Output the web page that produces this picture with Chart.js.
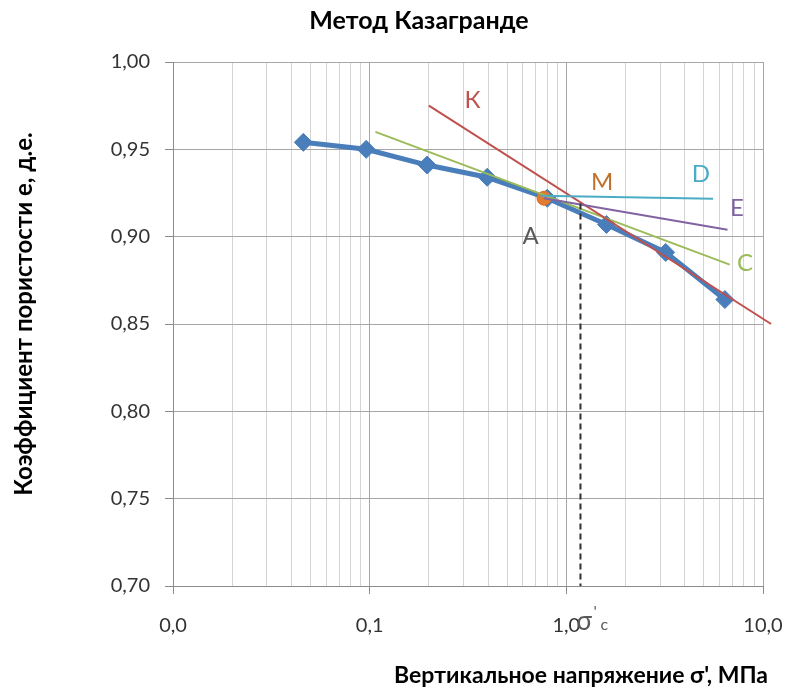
<!DOCTYPE html>
<html>
<head>
<meta charset="utf-8">
<script src="https://cdn.jsdelivr.net/npm/chart.js@4.4.0/dist/chart.umd.min.js"></script>
<style>
  html, body { margin: 0; padding: 0; background: #fff; }
</style>
</head>
<body>
<canvas id="chart" width="788" height="693"></canvas>
<script>
// --- Données de l'essai ---
const stress = [0.046, 0.096, 0.196, 0.396, 0.8, 1.6, 3.2, 6.4];
const voidRatio = [0.954, 0.950, 0.941, 0.934, 0.922, 0.907, 0.891, 0.864];

const pointM = [0.77, 0.922];

// construction lines (x, y pairs)
const lineK = [[0.2, 0.975], [11, 0.850]];
const lineC = [[0.107, 0.960], [6.77, 0.884]];
const lineE = [[0.77, 0.922], [6.6, 0.904]];
const lineD = [[0.74, 0.9234], [5.57, 0.9217]];
const sigmaC = [[1.18, 0.919], [1.18, 0.70]];

const decades = [0.01, 0.1, 1, 10];
const yTicks = [0.70, 0.75, 0.80, 0.85, 0.90, 0.95, 1.00];

// text marks: letter, x, y
const marks = [
  ['К', 0.334, 0.978, '#c0504d'],
  ['M', 1.52, 0.931, '#c0702a'],
  ['D', 4.83, 0.936, '#4bacc6'],
  ['E', 7.38, 0.916, '#8064a2'],
  ['C', 8.09, 0.885, '#9bbb59'],
  ['A', 0.659, 0.900, '#595959']
];

const FONT = 'Lato, "Liberation Sans", sans-serif';

const xTickValues = [];
decades.forEach((d, i) => {
  if (i === decades.length - 1) { xTickValues.push(d); return; }
  for (let k = 1; k <= 9; k++) xTickValues.push(+(d * k).toPrecision(6));
});

function isDecade(v) {
  if (!v) return false;
  const l = Math.log10(v);
  return Math.abs(l - Math.round(l)) < 1e-6;
}

const pts = arr => arr.map(p => ({ x: p[0], y: p[1] }));

function segment(data, color, order, extra) {
  return Object.assign({
    data: pts(data),
    borderColor: color,
    borderWidth: 2,
    showLine: true,
    pointRadius: 0,
    clip: false,
    order: order
  }, extra || {});
}

const textPlugin = {
  id: 'texts',
  afterDatasetsDraw(chart) {
    const ctx = chart.ctx;
    const x = chart.scales.x, y = chart.scales.y;
    ctx.save();
    ctx.textAlign = 'center';
    ctx.textBaseline = 'middle';
    ctx.font = '24px ' + FONT;
    marks.forEach(m => {
      ctx.fillStyle = m[3];
      ctx.fillText(m[0], x.getPixelForValue(m[1]), y.getPixelForValue(m[2]));
    });

    // sigma'c under the dashed line
    const sx = x.getPixelForValue(sigmaC[0][0]);
    ctx.fillStyle = '#595959';
    ctx.textAlign = 'left';
    ctx.textBaseline = 'alphabetic';
    ctx.font = '26px ' + FONT;
    ctx.fillText('σ', sx - 4, 630);
    ctx.font = '16px ' + FONT;
    ctx.fillText("'", sx + 13, 617);
    ctx.fillText('c', sx + 20, 630);

    // titles
    ctx.fillStyle = '#000';
    ctx.textAlign = 'center';
    ctx.textBaseline = 'middle';
    ctx.font = 'bold 25px ' + FONT;
    ctx.fillText('Метод Казагранде', 419, 21);
    ctx.font = 'bold 23px ' + FONT;
    ctx.fillText('Вертикальное напряжение σ\', МПа', 581, 676);
    ctx.font = 'bold 24px ' + FONT;
    ctx.translate(24, 314);
    ctx.rotate(-Math.PI / 2);
    ctx.fillText('Коэффициент пористости е, д.е.', 0, 0);
    ctx.restore();
  }
};

new Chart(document.getElementById('chart'), {
  type: 'scatter',
  data: {
    datasets: [
      {
        data: stress.map((s, i) => ({ x: s, y: voidRatio[i] })),
        borderColor: '#4a7ebb',
        backgroundColor: '#4a7ebb',
        borderWidth: 5,
        showLine: true,
        pointStyle: 'rectRot',
        pointRadius: 9,
        pointBorderWidth: 1,
        order: 10
      },
      {
        data: [{ x: pointM[0], y: pointM[1] }],
        backgroundColor: '#e07b30',
        borderColor: '#d86f24',
        pointRadius: 7,
        order: 8
      },
      segment(lineC, '#9bbb59', 5),
      segment(lineK, '#c0504d', 4),
      segment(lineE, '#8064a2', 3),
      segment(lineD, '#4bacc6', 2),
      segment(sigmaC, '#303030', 1, { borderDash: [6, 4] })
    ]
  },
  options: {
    responsive: false,
    animation: false,
    layout: { padding: { top: 62, right: 25, left: 0, bottom: 0 } },
    plugins: {
      legend: { display: false },
      tooltip: { enabled: false }
    },
    scales: {
      x: {
        type: 'logarithmic',
        min: 0.01,
        max: 10,
        afterBuildTicks: axis => { axis.ticks = xTickValues.map(v => ({ value: v })); },
        afterFit: axis => {
          axis.height = 107;
          axis.paddingLeft = 0;
          axis.paddingRight = 0;
        },
        border: { color: '#8c8c8c', width: 1 },
        grid: {
          color: ctx => isDecade(ctx.tick && ctx.tick.value) ? '#a6a6a6' : '#d4d4d4',
          tickColor: ctx => isDecade(ctx.tick && ctx.tick.value) ? '#8c8c8c' : 'rgba(0,0,0,0)',
          tickLength: 8,
          lineWidth: 1
        },
        ticks: {
          autoSkip: false,
          maxRotation: 0,
          padding: 20,
          color: '#333',
          font: { family: FONT, size: 20 },
          callback: v => isDecade(v) ? v.toFixed(1).replace('.', ',') : ''
        }
      },
      y: {
        min: 0.70,
        max: 1.00,
        afterBuildTicks: axis => { axis.ticks = yTicks.map(v => ({ value: v })); },
        afterFit: axis => { axis.width = 173; },
        border: { color: '#8c8c8c', width: 1 },
        grid: {
          color: '#a6a6a6',
          tickColor: '#8c8c8c',
          tickLength: 8
        },
        ticks: {
          padding: 15,
          color: '#333',
          font: { family: FONT, size: 20 },
          callback: v => v.toFixed(2).replace('.', ',')
        }
      }
    }
  },
  plugins: [textPlugin]
});
</script>
</body>
</html>
